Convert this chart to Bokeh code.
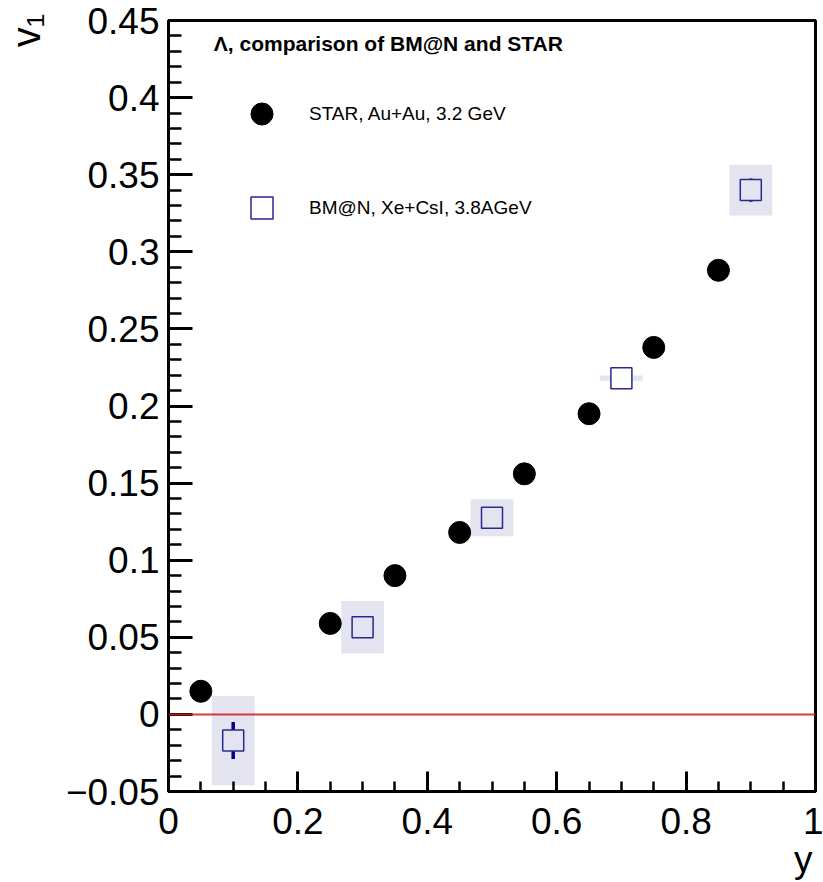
import numpy as np
from bokeh.plotting import figure
from bokeh.models import (Range1d, FixedTicker, CustomJSTickFormatter, Span, Label, Title,
                          Legend, LegendItem, ColumnDataSource)
from bokeh.embed import file_html
from bokeh.resources import INLINE

# ---------------- data ----------------
star_y = [0.05, 0.25, 0.35, 0.45, 0.55, 0.65, 0.75, 0.85]
star_v1 = [0.015, 0.059, 0.090, 0.118, 0.156, 0.195, 0.238, 0.288]

bmn_y = [0.1, 0.3, 0.5, 0.7, 0.9]
bmn_v1 = [-0.017, 0.0565, 0.1275, 0.218, 0.340]
bmn_stat = [0.012, 0.007, 0.007, 0.003, 0.0075]
bmn_sys = [0.029, 0.017, 0.012, 0.0017, 0.0164]
bmn_sys_halfwidth = 0.033

x_ticks = [0, 0.2, 0.4, 0.6, 0.8, 1.0]
y_ticks = [-0.05, 0, 0.05, 0.1, 0.15, 0.2, 0.25, 0.3, 0.35, 0.4, 0.45]
x_minor = [round(v, 3) for v in np.arange(0, 1.0001, 0.05)]
y_minor = [round(v, 3) for v in np.arange(-0.05, 0.4501, 0.01)]

title_text = "Λ, comparison of BM@N and STAR"
star_label = "STAR, Au+Au, 3.2 GeV"
bmn_label = "BM@N, Xe+CsI, 3.8AGeV"
x_title = "y"
y_title = "v\u2081\u2002"

FONT = "Liberation Sans"
LAV = "#e4e4f0"

# ---------------- figure ----------------
p = figure(width=823, height=882, x_range=Range1d(0, 1), y_range=Range1d(-0.05, 0.45),
           output_backend="svg", toolbar_location=None,
           min_border_left=167, min_border_right=8, min_border_top=20, min_border_bottom=91)
p.xgrid.visible = False
p.ygrid.visible = False
p.outline_line_color = "black"
p.outline_line_width = 3
p.background_fill_color = "white"
p.border_fill_color = "white"

fmt = CustomJSTickFormatter(code="""
let s = tick.toFixed(2);
s = s.replace(/0+$/, '').replace(/\\.$/, '');
if (s === '-0') { s = '0'; }
return s.replace('-', '\u2212');
""")

for ax, ticks, minor, tin, tmin, sto in ((p.xaxis[0], x_ticks, x_minor, 20, 10, 16),
                                         (p.yaxis[0], y_ticks, y_minor, 24, 13, 9)):
    ax.ticker = FixedTicker(ticks=ticks, minor_ticks=minor)
    ax.formatter = fmt
    ax.axis_line_width = 3
    ax.axis_line_color = "black"
    ax.major_tick_in = tin
    ax.major_tick_out = 0
    ax.minor_tick_in = tmin
    ax.minor_tick_out = 0
    ax.major_tick_line_width = 3
    ax.minor_tick_line_width = 2.5
    ax.major_tick_line_color = "black"
    ax.minor_tick_line_color = "black"
    ax.major_label_text_font = FONT
    ax.major_label_text_font_size = "37px"
    ax.major_label_text_color = "black"
    ax.major_label_standoff = sto

# ---------------- glyphs ----------------
by = np.array(bmn_y)
bv = np.array(bmn_v1)
bs = np.array(bmn_sys)
be = np.array(bmn_stat)

sys_src = ColumnDataSource(dict(left=by - bmn_sys_halfwidth, right=by + bmn_sys_halfwidth,
                                bottom=bv - bs, top=bv + bs))
p.quad(left="left", right="right", bottom="bottom", top="top", source=sys_src,
       fill_color=LAV, line_color=None)

p.segment(x0=by, y0=bv - be, x1=by, y1=bv + be, line_color="#000088", line_width=3.5)

sq_fill = [LAV if s * 1546 > 11 else "white" for s in bmn_sys]
sq_src = ColumnDataSource(dict(x=bmn_y, y=bmn_v1, fill=sq_fill))
sq = p.scatter(x="x", y="y", source=sq_src, marker="square", size=21,
               line_color="#28288f", line_width=1.5, fill_color="fill")

circ = p.scatter(x=star_y, y=star_v1, marker="circle", size=22,
                 fill_color="black", line_color="black")

p.add_layout(Span(location=0, dimension="width", line_color="#cc1c1c",
                  line_width=2, line_alpha=0.85))

# ---------------- legend ----------------
legend = Legend(items=[LegendItem(label=star_label, renderers=[circ]),
                       LegendItem(label=bmn_label, renderers=[sq], index=3)],
                location="top_left", margin=0, padding=66,
                glyph_width=55, glyph_height=55, spacing=39, label_standoff=20,
                border_line_alpha=0, background_fill_alpha=0,
                label_text_font=FONT, label_text_font_size="19px",
                label_text_color="black")
p.add_layout(legend)

p.add_layout(Label(x=0.07, y=0.4351, text=title_text, text_font=FONT,
                   text_font_size="21px", text_font_style="bold",
                   text_align="left", text_baseline="alphabetic", text_color="black"))

# axis titles
p.add_layout(Title(text=x_title, align="right", offset=3, standoff=0,
                   text_font=FONT, text_font_size="37px", text_font_style="normal",
                   text_color="black"), "below")

yax = p.yaxis[0]
if "axis_label_align" in yax.properties():
    yax.axis_label = y_title
    yax.axis_label_align = "end"
    yax.axis_label_standoff = 15
    yax.axis_label_text_font = FONT
    yax.axis_label_text_font_size = "40px"
    yax.axis_label_text_font_style = "normal"
    yax.axis_label_text_color = "black"
else:
    p.add_layout(Title(text=y_title, align="right", offset=-4, standoff=15,
                       text_font=FONT, text_font_size="40px", text_font_style="normal",
                       text_color="black"), "left")

open("out.html", "w").write(file_html(p, INLINE))
